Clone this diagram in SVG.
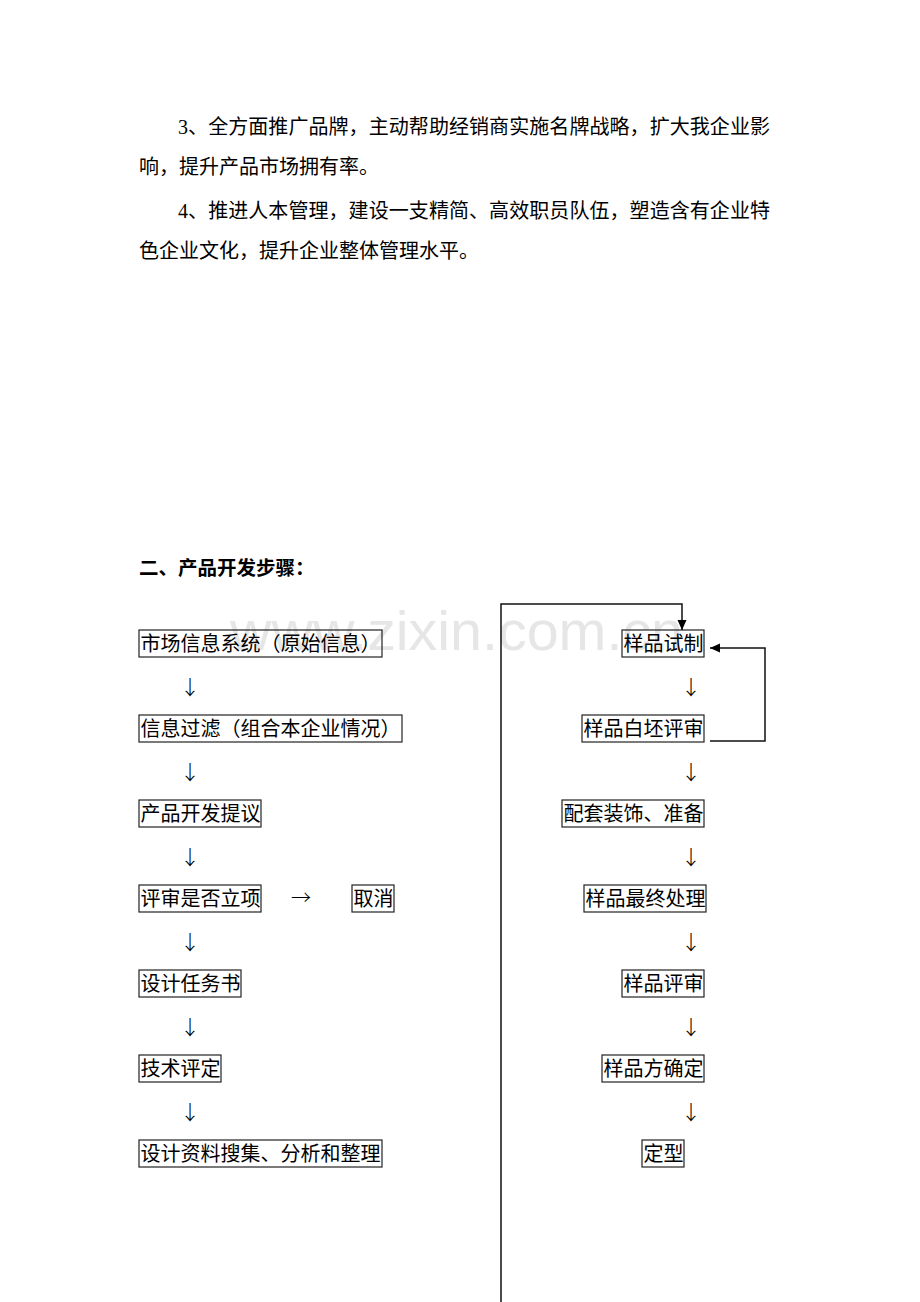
<svg xmlns="http://www.w3.org/2000/svg" width="920" height="1302" viewBox="0 0 920 1302">
<style>
.t{font-family:"Liberation Serif","Noto Sans CJK SC",serif;font-size:20px;fill:#000}
.h{font-family:"Liberation Serif","Noto Sans CJK SC",serif;font-size:19.5px;font-weight:bold;fill:#000}
.b{fill:none;stroke:#222;stroke-width:1.2}
.ar{font-family:"Noto Sans CJK SC","DejaVu Sans",sans-serif;font-size:20px;font-weight:300;text-anchor:middle;fill:#000}
.c{fill:none;stroke:#111;stroke-width:1.5}
.wm{font-family:"Liberation Sans",Arial,sans-serif;font-size:56px;fill:#e6e6e6}
</style>
<defs>
<marker id="ah" markerUnits="userSpaceOnUse" markerWidth="11" markerHeight="10" refX="10" refY="4.5" orient="auto">
<path d="M0,0 L10,4.5 L0,9 z" fill="#000"/>
</marker>
</defs>
<rect width="920" height="1302" fill="#fff"/>
<text class="wm" x="230" y="650" textLength="453" lengthAdjust="spacingAndGlyphs">www.zixin.com.cn</text>

<g id="paragraph">
<text class="t" x="178" y="133.5" textLength="592" lengthAdjust="spacing">3、全方面推广品牌，主动帮助经销商实施名牌战略，扩大我企业影</text>
<text class="t" x="139" y="173.5">响，提升产品市场拥有率。</text>
<text class="t" x="178" y="217.5" textLength="592" lengthAdjust="spacing">4、推进人本管理，建设一支精简、高效职员队伍，塑造含有企业特</text>
<text class="t" x="139" y="257.5">色企业文化，提升企业整体管理水平。</text>
</g>
<g id="title"><text class="h" x="139" y="575">二、产品开发步骤：</text></g>

<g id="n1"><rect class="b" x="139" y="630" width="243" height="27"/><text class="t" x="140.5" y="651">市场信息系统（原始信息）</text></g>
<g id="n2"><rect class="b" x="139" y="715" width="263" height="27"/><text class="t" x="140.5" y="736">信息过滤（组合本企业情况）</text></g>
<g id="n3"><rect class="b" x="139" y="800" width="122" height="27"/><text class="t" x="140.5" y="821">产品开发提议</text></g>
<g id="n4"><rect class="b" x="139" y="885" width="122" height="27"/><text class="t" x="140.5" y="906">评审是否立项</text></g>
<g id="n4b"><rect class="b" x="352" y="885" width="42" height="27"/><text class="t" x="353.5" y="906">取消</text></g>
<g id="n5"><rect class="b" x="139" y="970" width="102" height="27"/><text class="t" x="140.5" y="991">设计任务书</text></g>
<g id="n6"><rect class="b" x="139" y="1055" width="82" height="27"/><text class="t" x="140.5" y="1076">技术评定</text></g>
<g id="n7"><rect class="b" x="139" y="1140" width="243" height="27"/><text class="t" x="140.5" y="1161">设计资料搜集、分析和整理</text></g>

<g id="r1"><rect class="b" x="622" y="630" width="82" height="27"/><text class="t" x="623.5" y="651">样品试制</text></g>
<g id="r2"><rect class="b" x="582" y="715" width="122" height="27"/><text class="t" x="583.5" y="736">样品白坯评审</text></g>
<g id="r3"><rect class="b" x="562" y="800" width="142" height="27"/><text class="t" x="563.5" y="821">配套装饰、准备</text></g>
<g id="r4"><rect class="b" x="584" y="885" width="122" height="27"/><text class="t" x="585.5" y="906">样品最终处理</text></g>
<g id="r5"><rect class="b" x="622" y="970" width="82" height="27"/><text class="t" x="623.5" y="991">样品评审</text></g>
<g id="r6"><rect class="b" x="602" y="1055" width="102" height="27"/><text class="t" x="603.5" y="1076">样品方确定</text></g>
<g id="r7"><rect class="b" x="642" y="1140" width="42" height="27"/><text class="t" x="643.5" y="1161">定型</text></g>

<g id="connectors">
<text class="ar" x="190" y="695">↓</text>
<text class="ar" x="190" y="780">↓</text>
<text class="ar" x="190" y="865">↓</text>
<text class="ar" x="190" y="950">↓</text>
<text class="ar" x="190" y="1035">↓</text>
<text class="ar" x="190" y="1120">↓</text>
<text class="ar" x="301" y="905">→</text>
<text class="ar" x="691" y="695">↓</text>
<text class="ar" x="691" y="780">↓</text>
<text class="ar" x="691" y="865">↓</text>
<text class="ar" x="691" y="950">↓</text>
<text class="ar" x="691" y="1035">↓</text>
<text class="ar" x="691" y="1120">↓</text>
<path class="c" d="M501,1302 V604 H682 V630" marker-end="url(#ah)"/>
<path class="c" d="M710,741 H765 V648 H710" marker-end="url(#ah)"/>
</g>
</svg>
